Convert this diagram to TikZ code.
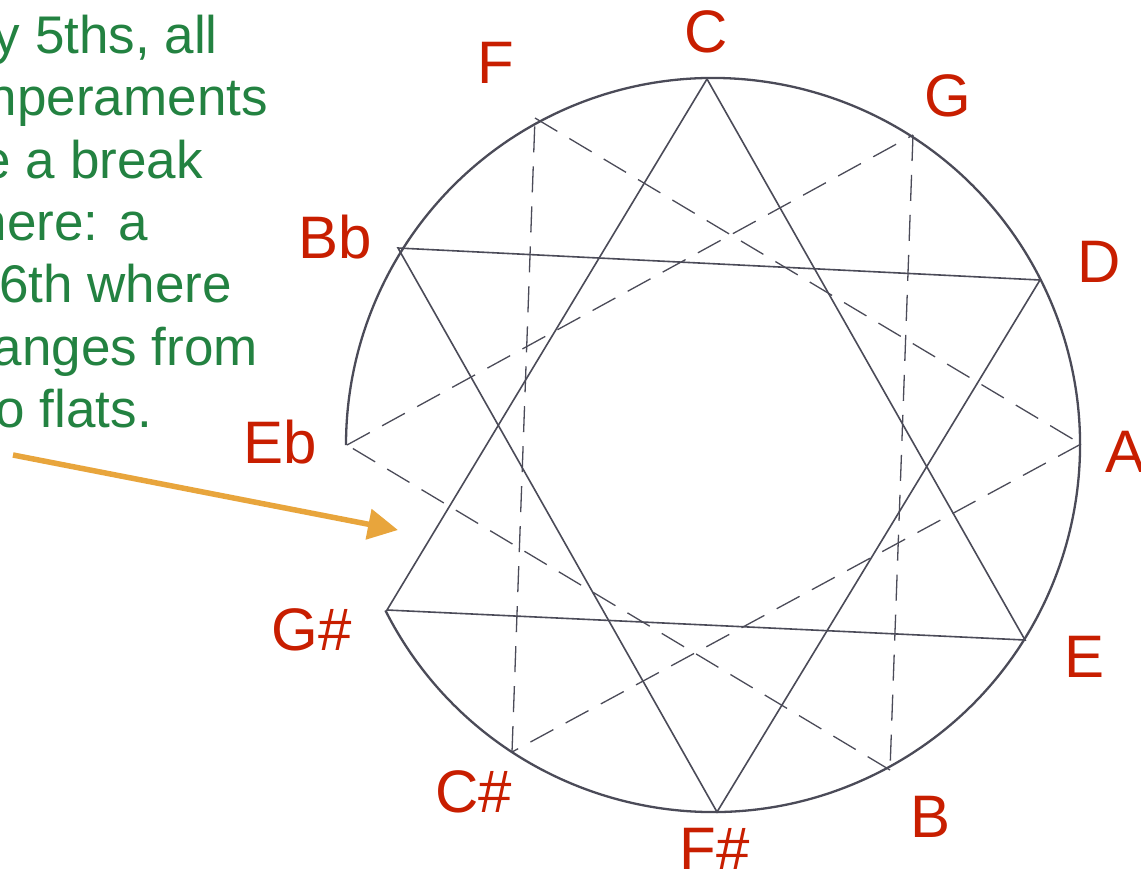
\documentclass[tikz,border=0pt]{standalone}
\usepackage{fontspec}
\setmainfont{Liberation Sans}
\usetikzlibrary{arrows.meta}
\definecolor{notered}{RGB}{200,30,0}
\definecolor{notegreen}{RGB}{35,130,65}
\definecolor{arroworange}{RGB}{232,165,60}
\definecolor{pencil}{RGB}{75,75,88}
\begin{document}
\begin{tikzpicture}[x=1pt,y=-1pt,
  notelabel/.style={anchor=base,inner sep=0pt,text=notered,font=\fontsize{60}{60}\selectfont},
  remark/.style={anchor=base east,inner sep=0pt,text=notegreen,font=\fontsize{53}{62}\selectfont},
  solidline/.style={draw=pencil,line width=1.6pt},
  dashline/.style={draw=pencil,line width=1.3pt,dash pattern=on 26pt off 14pt},
  rim/.style={draw=pencil,line width=2.3pt},
  pointer/.style={draw=arroworange,line width=5.5pt,-{Triangle[length=30pt,width=30pt]}}]
\useasboundingbox (0,0) rectangle (1141,879);
\fill[white] (0,0) rectangle (1141,879);
% vertices
\coordinate (O) at (713,445);
\coordinate (C) at (707,79);
\coordinate (G) at (913,135);
\coordinate (D) at (1040,280);
\coordinate (A) at (1081,444);
\coordinate (E) at (1025,640);
\coordinate (B) at (890,770);
\coordinate (Fs) at (717,812);
\coordinate (Cs) at (512,752);
\coordinate (Gs) at (387,610);
\coordinate (Eb) at (347,445);
\coordinate (Bb) at (398,248);
\coordinate (F) at (535,118);
% circle with break between Eb and G#
\draw[rim] ([shift={(153.2:367)}]O) arc[start angle=153.2,end angle=-180,radius=367];
% solid triangles
\draw[solidline] (C) -- (E) -- (Gs) -- cycle;
\draw[solidline] (Bb) -- (D) -- (Fs) -- cycle;
% dashed triangles
\draw[dashline] (F) -- (A);
\draw[dashline] (A) -- (Cs);
\draw[dashline] (Cs) -- (F);
\draw[dashline] (G) -- (B);
\draw[dashline] (B) -- (Eb);
\draw[dashline] (Eb) -- (G);
% labels
\node[notelabel] (lC) at (706,52) {C};
\node[notelabel] (lG) at (948,116) {G};
\node[notelabel] (lD) at (1099,282) {D};
\node[notelabel] (lA) at (1125,472) {A};
\node[notelabel] (lE) at (1084,677) {E};
\node[notelabel] (lB) at (931,837) {B};
\node[notelabel] (lFs) at (715,869) {F\#};
\node[notelabel] (lCs) at (474,812) {C\#};
\node[notelabel] (lGs) at (312,650) {G\#};
\node[notelabel] (lEb) at (280,463) {Eb};
\node[notelabel] (lBb) at (335,258) {Bb};
\node[notelabel] (lF) at (496,83) {F};
% remark text (cut off at the left edge)
\node[remark] (r1) at (218,53) {y 5ths, all};
\node[remark] (r2) at (268,115) {nperaments};
\node[remark] (r3) at (203,178) {e a break};
\node[remark] (r4) at (148,240) {here: a};
\node[remark] (r5) at (232,302) {6th where};
\node[remark] (r6) at (258,365) {anges from};
\node[remark] (r7) at (152,427) {o flats.};
% arrow
\coordinate (ptail) at (13,455);
\coordinate (phead) at (398,530);
\draw[pointer] (ptail) -- (phead);
\end{tikzpicture}
\end{document}
